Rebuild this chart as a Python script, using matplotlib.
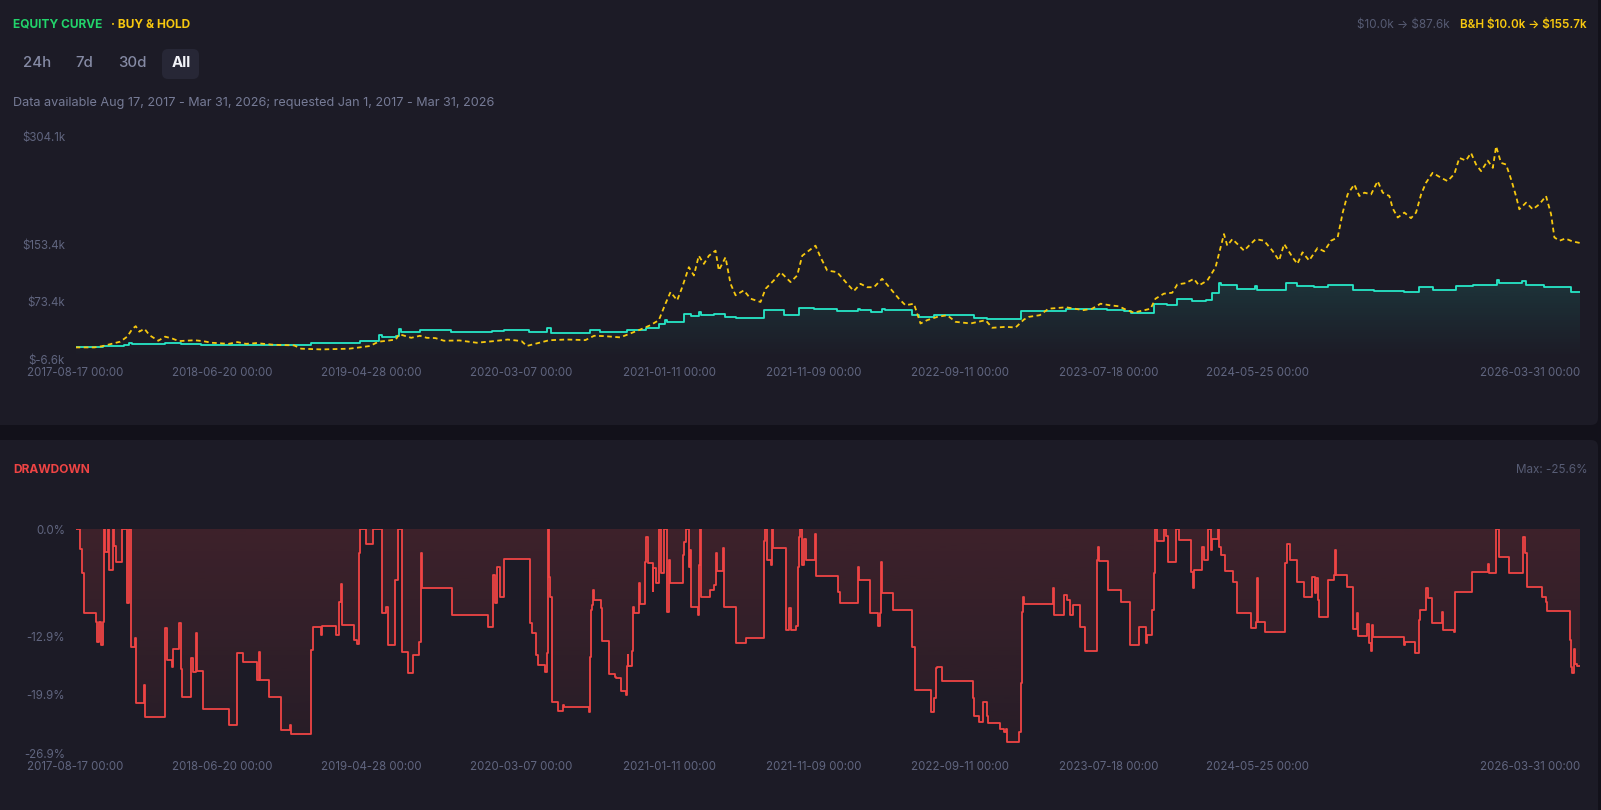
"""Equity curve vs buy & hold, with drawdown panel (dark dashboard style)."""

import numpy as np
import pandas as pd
import matplotlib
matplotlib.use("Agg")
import matplotlib.pyplot as plt
import matplotlib.dates as mdates
import matplotlib.colors as mcolors
from matplotlib.patches import FancyBboxPatch
from matplotlib.transforms import IdentityTransform

# ---------------------------------------------------------------------------
# Data (decimal years, values in $k / %)
# ---------------------------------------------------------------------------

strat_years = [
    2017.625, 2017.783, 2017.842, 2017.901, 2017.931, 2017.951, 2018.138, 2018.227,
    2018.345, 2018.553, 2018.977, 2019.145, 2019.155, 2019.253, 2019.362, 2019.382,
    2019.461, 2019.480, 2019.490, 2019.599, 2019.776, 2020.013, 2020.043, 2020.083,
    2020.221, 2020.329, 2020.349, 2020.574, 2020.632, 2020.785, 2020.890, 2020.966,
    2021.004, 2021.014, 2021.109, 2021.148, 2021.195, 2021.205, 2021.281, 2021.348,
    2021.406, 2021.568, 2021.683, 2021.769, 2021.855, 2021.988, 2022.107, 2022.118,
    2022.180, 2022.246, 2022.260, 2022.418, 2022.457, 2022.543, 2022.772, 2022.848,
    2023.040, 2023.300, 2023.498, 2023.536, 2023.632, 2023.670, 2023.804, 2023.880,
    2023.938, 2024.024, 2024.100, 2024.138, 2024.176, 2024.186, 2024.282, 2024.381,
    2024.396, 2024.559, 2024.625, 2024.721, 2024.797, 2024.941, 2025.065, 2025.237,
    2025.323, 2025.399, 2025.533, 2025.629, 2025.768, 2025.782, 2025.910, 2025.935,
    2026.040, 2026.190, 2026.245,
]
strat_vals = [
    10.0, 11.5, 12.5, 14.0, 16.5, 14.5, 15.5, 14.5,
    14.0, 13.5, 15.5, 16.5, 15.5, 19.5, 27.0, 24.0,
    26.5, 35.5, 31.0, 34.0, 32.0, 33.5, 32.5, 34.5,
    31.0, 37.0, 30.0, 34.0, 31.0, 34.0, 37.5, 42.5,
    48.0, 45.5, 57.0, 53.5, 59.5, 55.0, 57.0, 52.5,
    51.0, 62.0, 55.0, 65.5, 63.5, 61.5, 64.0, 62.0,
    60.0, 64.0, 62.0, 55.0, 52.5, 55.0, 51.5, 49.5,
    61.5, 63.0, 64.0, 61.8, 60.4, 58.1, 71.0, 69.7,
    78.0, 74.3, 75.7, 86.0, 100.0, 97.4, 91.4, 96.0,
    89.5, 100.2, 95.6, 94.2, 97.0, 89.5, 89.1, 87.7,
    94.2, 90.5, 95.6, 97.4, 103.4, 99.7, 102.5, 97.0,
    94.2, 87.6, 87.6,
]

bh_years = [
    2017.625, 2017.733, 2017.783, 2017.832, 2017.881, 2017.921, 2017.951, 2017.970,
    2017.990, 2018.020, 2018.049, 2018.099, 2018.138, 2018.178, 2018.217, 2018.306,
    2018.355, 2018.405, 2018.503, 2018.553, 2018.602, 2018.661, 2018.760, 2018.878,
    2018.918, 2019.036, 2019.194, 2019.253, 2019.313, 2019.362, 2019.411, 2019.461,
    2019.480, 2019.549, 2019.599, 2019.638, 2019.688, 2019.737, 2019.826, 2019.925,
    2020.023, 2020.102, 2020.181, 2020.211, 2020.260, 2020.339, 2020.438, 2020.546,
    2020.596, 2020.651, 2020.746, 2020.804, 2020.861, 2020.918, 2020.966, 2021.004,
    2021.033, 2021.071, 2021.100, 2021.138, 2021.167, 2021.195, 2021.224, 2021.253,
    2021.291, 2021.310, 2021.348, 2021.377, 2021.406, 2021.453, 2021.492, 2021.549,
    2021.578, 2021.625, 2021.664, 2021.721, 2021.759, 2021.788, 2021.826, 2021.864,
    2021.893, 2021.931, 2021.988, 2022.046, 2022.084, 2022.122, 2022.160, 2022.199,
    2022.246, 2022.294, 2022.342, 2022.380, 2022.428, 2022.466, 2022.504, 2022.562,
    2022.619, 2022.667, 2022.753, 2022.839, 2022.877, 2022.954, 2023.011, 2023.059,
    2023.087, 2023.150, 2023.200, 2023.300, 2023.400, 2023.450, 2023.498, 2023.555,
    2023.603, 2023.651, 2023.689, 2023.746, 2023.785, 2023.813, 2023.861, 2023.909,
    2023.938, 2023.985, 2024.033, 2024.062, 2024.110, 2024.157, 2024.176, 2024.205,
    2024.224, 2024.253, 2024.282, 2024.320, 2024.348, 2024.387, 2024.434, 2024.482,
    2024.520, 2024.549, 2024.597, 2024.625, 2024.654, 2024.692, 2024.740, 2024.778,
    2024.817, 2024.855, 2024.884, 2024.912, 2024.950, 2024.979, 2025.008, 2025.046,
    2025.084, 2025.113, 2025.151, 2025.170, 2025.199, 2025.237, 2025.275, 2025.304,
    2025.333, 2025.361, 2025.399, 2025.447, 2025.485, 2025.524, 2025.552, 2025.590,
    2025.619, 2025.648, 2025.677, 2025.715, 2025.744, 2025.763, 2025.791, 2025.820,
    2025.849, 2025.877, 2025.896, 2025.935, 2025.973, 2026.011, 2026.049, 2026.078,
    2026.097, 2026.126, 2026.160, 2026.200, 2026.245,
]
bh_vals = [
    10.0, 10.0, 12.0, 15.0, 18.0, 25.0, 36.0, 39.6,
    32.0, 36.0, 27.0, 19.3, 25.0, 22.5, 18.8, 20.0,
    18.8, 16.5, 15.0, 17.4, 15.0, 16.0, 13.7, 12.8,
    8.2, 7.2, 8.2, 10.0, 12.0, 18.0, 19.3, 21.0,
    28.5, 23.4, 26.2, 23.4, 23.0, 19.3, 19.7, 16.5,
    18.8, 21.0, 18.8, 12.0, 15.1, 20.0, 21.0, 20.2,
    26.2, 25.8, 24.0, 29.5, 35.0, 41.0, 48.0, 71.0,
    87.3, 75.7, 94.0, 122.0, 110.4, 138.0, 126.6, 138.0,
    145.0, 117.4, 135.8, 98.8, 82.7, 89.6, 78.0, 73.4,
    91.9, 103.5, 115.0, 101.2, 110.4, 138.0, 145.0, 152.0,
    135.8, 117.4, 115.0, 98.8, 88.7, 98.8, 94.0, 94.0,
    105.8, 92.0, 78.0, 68.8, 71.0, 43.4, 48.0, 52.6,
    54.9, 45.7, 43.4, 48.0, 37.4, 38.7, 37.8, 48.9,
    52.6, 55.0, 64.0, 66.0, 62.0, 64.0, 71.0, 68.7,
    67.4, 61.8, 58.6, 61.8, 64.0, 78.0, 85.0, 86.3,
    97.9, 99.7, 105.7, 96.5, 103.4, 121.9, 140.4, 168.2,
    152.0, 161.2, 154.3, 145.0, 152.0, 161.2, 158.9, 145.0,
    131.2, 154.3, 135.8, 126.5, 142.7, 131.2, 148.7, 144.1,
    158.9, 163.5, 198.2, 223.6, 237.5, 221.3, 226.0, 223.6,
    242.1, 226.0, 221.3, 204.2, 191.3, 198.2, 190.4, 198.2,
    223.6, 239.8, 253.7, 246.8, 242.1, 252.3, 274.5, 270.8,
    281.4, 265.3, 256.0, 270.8, 260.6, 290.7, 267.6, 265.3,
    244.5, 221.3, 202.8, 212.1, 202.8, 209.8, 221.3, 195.9,
    163.5, 158.9, 162.0, 158.0, 155.7,
]

dd_years = [
    2017.625, 2017.653, 2017.663, 2017.673, 2017.745, 2017.750, 2017.761, 2017.772,
    2017.782, 2017.786, 2017.796, 2017.810, 2017.817, 2017.837, 2017.847, 2017.854,
    2017.892, 2017.919, 2017.933, 2017.940, 2017.966, 2017.970, 2018.017, 2018.021,
    2018.140, 2018.148, 2018.175, 2018.181, 2018.220, 2018.228, 2018.236, 2018.288,
    2018.298, 2018.314, 2018.322, 2018.353, 2018.507, 2018.548, 2018.585, 2018.667,
    2018.677, 2018.683, 2018.732, 2018.800, 2018.855, 2018.861, 2018.974, 2018.986,
    2019.031, 2019.035, 2019.117, 2019.138, 2019.144, 2019.154, 2019.220, 2019.240,
    2019.250, 2019.256, 2019.290, 2019.332, 2019.379, 2019.404, 2019.414, 2019.459,
    2019.471, 2019.496, 2019.531, 2019.562, 2019.592, 2019.605, 2019.613, 2019.783,
    2019.988, 2020.018, 2020.029, 2020.043, 2020.059, 2020.080, 2020.227, 2020.239,
    2020.264, 2020.274, 2020.318, 2020.327, 2020.331, 2020.337, 2020.343, 2020.353,
    2020.357, 2020.387, 2020.416, 2020.426, 2020.564, 2020.570, 2020.578, 2020.584,
    2020.590, 2020.594, 2020.637, 2020.639, 2020.679, 2020.716, 2020.722, 2020.748,
    2020.776, 2020.782, 2020.787, 2020.791, 2020.811, 2020.817, 2020.825, 2020.855,
    2020.860, 2020.886, 2020.894, 2020.906, 2020.930, 2020.934, 2020.950, 2020.969,
    2020.979, 2020.995, 2021.014, 2021.022, 2021.028, 2021.103, 2021.113, 2021.119,
    2021.137, 2021.145, 2021.151, 2021.192, 2021.196, 2021.202, 2021.208, 2021.259,
    2021.285, 2021.291, 2021.299, 2021.334, 2021.340, 2021.409, 2021.463, 2021.571,
    2021.577, 2021.585, 2021.611, 2021.615, 2021.622, 2021.694, 2021.713, 2021.721,
    2021.753, 2021.765, 2021.772, 2021.778, 2021.788, 2021.798, 2021.808, 2021.861,
    2021.867, 2021.992, 2022.005, 2022.108, 2022.116, 2022.177, 2022.223, 2022.232,
    2022.238, 2022.248, 2022.311, 2022.420, 2022.436, 2022.528, 2022.542, 2022.552,
    2022.558, 2022.588, 2022.769, 2022.775, 2022.799, 2022.825, 2022.850, 2022.854,
    2022.923, 2022.943, 2022.957, 2022.963, 2023.032, 2023.042, 2023.046, 2023.052,
    2023.062, 2023.225, 2023.229, 2023.288, 2023.308, 2023.324, 2023.338, 2023.378,
    2023.411, 2023.477, 2023.483, 2023.491, 2023.542, 2023.615, 2023.669, 2023.720,
    2023.760, 2023.764, 2023.793, 2023.807, 2023.813, 2023.823, 2023.862, 2023.872,
    2023.882, 2023.932, 2023.945, 2024.017, 2024.027, 2024.033, 2024.080, 2024.090,
    2024.116, 2024.129, 2024.139, 2024.169, 2024.179, 2024.189, 2024.209, 2024.258,
    2024.278, 2024.282, 2024.361, 2024.391, 2024.396, 2024.400, 2024.440, 2024.555,
    2024.565, 2024.584, 2024.624, 2024.660, 2024.709, 2024.723, 2024.733, 2024.743,
    2024.749, 2024.798, 2024.832, 2024.838, 2024.846, 2024.907, 2024.940, 2024.966,
    2024.970, 2025.025, 2025.033, 2025.045, 2025.053, 2025.059, 2025.233, 2025.243,
    2025.296, 2025.320, 2025.326, 2025.362, 2025.370, 2025.395, 2025.451, 2025.459,
    2025.524, 2025.530, 2025.623, 2025.718, 2025.722, 2025.765, 2025.777, 2025.834,
    2025.918, 2025.930, 2025.939, 2026.028, 2026.048, 2026.054, 2026.185, 2026.192,
    2026.200, 2026.208, 2026.216, 2026.224, 2026.245,
]
dd_vals = [
    0.0, -2.4, -5.3, -10.1, -11.1, -13.5, -11.1, -13.9,
    -11.1, 0.0, -2.8, 0.0, -4.9, 0.0, -2.0, -4.0,
    0.0, -8.9, 0.0, -14.1, -13.1, -20.9, -18.7, -22.5,
    -11.9, -15.7, -16.5, -14.4, -11.3, -16.8, -20.1, -15.5,
    -17.1, -12.5, -17.0, -21.6, -23.5, -14.9, -16.0, -18.1,
    -14.7, -18.1, -20.1, -24.1, -23.5, -24.6, -14.5, -11.7,
    -12.7, -11.6, -12.7, -8.8, -6.6, -11.5, -13.3, -13.8,
    -2.9, 0.0, -1.8, 0.0, -10.1, -9.3, -13.9, -6.1,
    0.0, -14.7, -17.3, -15.1, -13.5, -2.9, -7.1, -10.3,
    -11.8, -5.5, -8.9, -4.5, -8.1, -3.6, -11.3, -12.5,
    -15.1, -16.3, -17.1, -14.9, 0.0, -5.8, -8.1, -9.3,
    -20.7, -21.8, -21.1, -21.3, -21.9, -15.3, -9.7, -9.1,
    -7.3, -8.5, -9.5, -13.4, -17.4, -17.7, -17.9, -19.4,
    -19.9, -16.4, -15.1, -16.4, -14.6, -9.3, -10.1, -6.5,
    -9.0, -3.9, -1.0, -4.1, -7.4, -4.7, -6.5, 0.0,
    -5.3, 0.0, -9.9, -3.7, -6.5, -3.1, -1.6, 0.0,
    -4.5, -2.5, -9.3, -10.3, -4.3, 0.0, -8.1, -7.3,
    -6.7, -2.9, -5.0, -2.3, -9.3, -13.7, -13.1, -1.4,
    0.0, -3.7, -4.3, 0.0, -2.3, -12.1, -9.5, -12.1,
    -11.6, -4.5, -1.0, 0.0, -4.3, -1.2, -3.7, -0.6,
    -5.6, -7.6, -8.9, -4.5, -6.1, -10.1, -11.6, -10.1,
    -3.9, -7.7, -9.7, -14.1, -19.3, -22.0, -20.3, -16.7,
    -16.5, -18.2, -20.3, -22.4, -23.2, -20.7, -22.4, -23.3,
    -24.0, -24.4, -24.0, -25.6, -24.4, -18.5, -9.9, -8.2,
    -9.0, -7.1, -10.3, -7.9, -8.5, -10.3, -9.1, -11.7,
    -14.6, -3.7, -2.1, -3.8, -7.3, -8.7, -13.9, -11.8,
    -13.7, -12.7, -9.7, -5.3, 0.0, -1.4, 0.0, -0.8,
    -4.0, 0.0, -1.3, -5.1, -7.1, -4.9, -2.1, -3.7,
    0.0, -2.5, -1.2, 0.0, -2.1, -3.1, -5.0, -6.3,
    -6.9, -10.1, -11.9, -11.1, -5.9, -11.1, -12.4, -4.1,
    -1.8, -3.7, -6.3, -8.1, -5.7, -7.7, -5.9, -8.5,
    -10.5, -6.1, -5.5, -2.5, -5.5, -6.9, -12.0, -10.1,
    -12.8, -11.4, -13.7, -14.6, -11.5, -12.9, -13.9, -13.5,
    -14.9, -10.9, -9.7, -7.1, -8.3, -11.3, -9.9, -12.1,
    -12.3, -7.5, -5.1, -4.2, -5.3, 0.0, -3.3, -5.3,
    -1.0, -2.9, -6.9, -8.1, -8.7, -9.8, -13.3, -16.5,
    -17.3, -14.4, -16.2, -16.4, -16.4,
]

equity_ticks = [-6.6, 73.4, 153.4, 304.1]
equity_tick_labels = ["$-6.6k", "$73.4k", "$153.4k", "$304.1k"]
dd_ticks = [0.0, -12.9, -19.9, -26.9]
dd_tick_labels = ["0.0%", "-12.9%", "-19.9%", "-26.9%"]
date_ticks = ["2017-08-17", "2018-06-20", "2019-04-28", "2020-03-07", "2021-01-11",
              "2021-11-09", "2022-09-11", "2023-07-18", "2024-05-25", "2026-03-31"]
ranges = ["24h", "7d", "30d", "All"]

# ---------------------------------------------------------------------------
# Style
# ---------------------------------------------------------------------------

W, H = 1601, 810
PAGE = "#12111a"
PANEL = "#1c1b26"
TICK = "#60657f"
TEAL = "#26e7c7"
GOLD = "#f7c80f"
RED = "#ef4444"
GREEN = "#22d36b"

plt.rcParams["font.family"] = ["Inter", "DejaVu Sans"]


def to_dates(years):
    out = []
    for y in years:
        yr = int(y)
        start = pd.Timestamp(year=yr, month=1, day=1)
        end = pd.Timestamp(year=yr + 1, month=1, day=1)
        out.append(start + (end - start) * (y - yr))
    return mdates.date2num(pd.DatetimeIndex(out).to_pydatetime())


def gradient_fill(ax, x, y, base, color, a_top, a_bot, y_top, y_bot):
    """Step-shaped fill between y and base, shaded with a vertical alpha ramp."""
    coll = ax.fill_between(x, y, base, step="post", facecolor="none",
                           edgecolor="none", linewidth=0)
    path = coll.get_paths()[0]
    grad = np.zeros((256, 1, 4))
    grad[..., :3] = mcolors.to_rgb(color)
    grad[..., 3] = np.linspace(a_top, a_bot, 256)[:, None]
    im = ax.imshow(grad, aspect="auto", origin="upper", zorder=1,
                   extent=[x[0], x[-1], y_bot, y_top], interpolation="bilinear")
    im.set_clip_path(path, ax.transData)


def ftext(x, y, s, **kw):
    """Text in image pixel coordinates (origin top-left)."""
    return fig.text(x, H - y, s, transform=IdentityTransform(), **kw)


def style_axes(ax, ticks, labels):
    ax.set_facecolor("none")
    for sp in ax.spines.values():
        sp.set_visible(False)
    ax.set_xlim(x0, x1)
    ax.set_yticks(ticks)
    ax.set_yticklabels(labels)
    ax.set_xticks(tick_x)
    ax.set_xticklabels([f"{d} 00:00" for d in date_ticks])
    ax.get_xticklabels()[-1].set_horizontalalignment("right")
    ax.tick_params(length=0, colors=TICK, labelsize=8.3)
    ax.tick_params(axis="y", pad=7.5)
    ax.tick_params(axis="x", pad=5.5)


fig = plt.figure(figsize=(W / 100, H / 100), dpi=100, facecolor=PAGE)

# panels
for top, bottom in [(-20, 425), (440, 830)]:
    fig.add_artist(FancyBboxPatch(
        (-20, H - bottom), W - 3 + 20, bottom - top,
        boxstyle="round,pad=0,rounding_size=7", transform=IdentityTransform(),
        facecolor=PANEL, edgecolor="none", zorder=-5))

sx = to_dates(strat_years)
bx = to_dates(bh_years)
dx = to_dates(dd_years)
tick_x = mdates.date2num(pd.to_datetime(date_ticks).to_pydatetime())
x0, x1 = tick_x[0], tick_x[-1]

# ---------------------------------------------------------------------------
# Equity curve
# ---------------------------------------------------------------------------
ax1 = fig.add_axes([75.5 / W, 1 - 359.3 / H, (1580 - 75.5) / W, (359.3 - 136.7) / H])
gradient_fill(ax1, sx, strat_vals, -6.6, TEAL, 0.13, 0.0, 106, -6.6)
ax1.plot(sx, strat_vals, drawstyle="steps-post", color=TEAL, linewidth=1.3, zorder=3)
ax1.plot(bx, bh_vals, color=GOLD, linewidth=1.3, dashes=(2.6, 1.9), zorder=4)
style_axes(ax1, equity_ticks, equity_tick_labels)
ax1.set_ylim(-6.6, 304.1)

# ---------------------------------------------------------------------------
# Drawdown
# ---------------------------------------------------------------------------
ax2 = fig.add_axes([75.5 / W, 1 - 753.3 / H, (1580 - 75.5) / W, (753.3 - 529) / H])
gradient_fill(ax2, dx, dd_vals, 0.0, RED, 0.16, 0.05, 0.0, -26.9)
ax2.plot(dx, dd_vals, drawstyle="steps-post", color=RED, linewidth=1.3, zorder=3)
style_axes(ax2, dd_ticks, dd_tick_labels)
ax2.set_ylim(-26.9, 0.0)

# ---------------------------------------------------------------------------
# Header texts
# ---------------------------------------------------------------------------
ftext(13, 25, "EQUITY CURVE", color=GREEN, fontsize=8.6, fontweight="bold", va="center")
ftext(111, 25, "· BUY & HOLD", color=GOLD, fontsize=8.6, fontweight="bold", va="center")
ftext(1587, 25, r"B&H \$10.0k → \$155.7k", color=GOLD, fontsize=8.4,
      fontweight="semibold", va="center", ha="right")
ftext(1450, 25, r"\$10.0k → \$87.6k", color="#575c74", fontsize=8.4,
      va="center", ha="right")

fig.add_artist(FancyBboxPatch(
    (162, H - 79), 37, 30, boxstyle="round,pad=0,rounding_size=6",
    transform=IdentityTransform(), facecolor="#272736", edgecolor="none", zorder=-4))
for label, cx in zip(ranges, [37, 84, 132, 181]):
    is_all = label == "All"
    ftext(cx, 63, label, color="#f2f3f8" if is_all else "#858aa4", fontsize=10.8,
          fontweight="bold" if is_all else "medium", ha="center", va="center")

ftext(13, 103, "Data available Aug 17, 2017 - Mar 31, 2026; requested Jan 1, 2017 - Mar 31, 2026",
      color="#767b96", fontsize=9.1, va="center")

ftext(13, 470, "DRAWDOWN", color=RED, fontsize=8.6, fontweight="bold", va="center")
ftext(1587, 470, "Max: -25.6%", color="#575c74", fontsize=8.4, va="center", ha="right")

fig.savefig("out.png", dpi=100, facecolor=PAGE)
